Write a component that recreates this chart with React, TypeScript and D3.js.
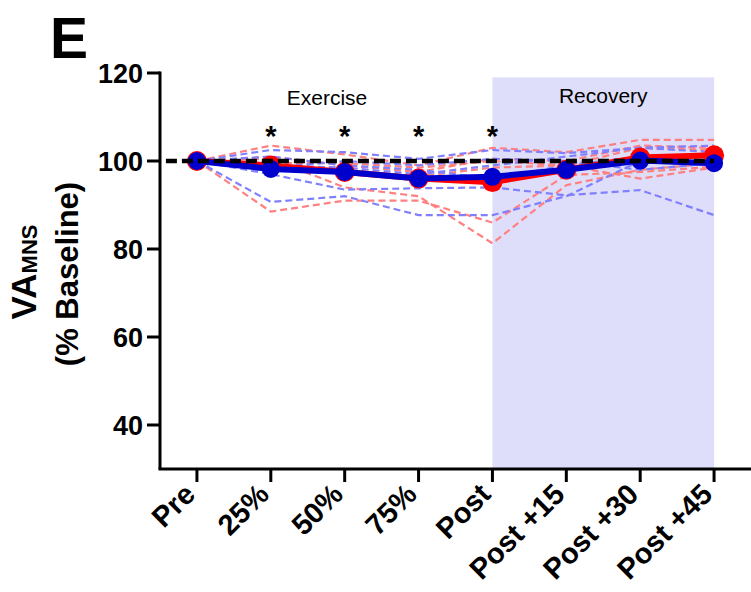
import React from 'react';
import * as d3 from 'd3';

// Time points along the protocol
const timepoints = ['Pre', '25%', '50%', '75%', 'Post', 'Post +15', 'Post +30', 'Post +45'];
const yTicks = [40, 60, 80, 100, 120];
const significantPoints = ['25%', '50%', '75%', 'Post'];

// Individual participants, group 1 (red)
const redSubject1 = [100, 103.5, 101.5, 99, 103, 102, 104.8, 104.8];
const redSubject2 = [100, 88.5, 91, 91, 86, 96.8, 97.5, 98.7];
const redSubject3 = [100, 100.5, 94, 92, 81.3, 94.5, 98, 99.5];
const redSubject4 = [100, 101, 99, 97.5, 100.5, 100, 103.5, 103];
const redSubject5 = [100, 99, 98, 96.5, 98.5, 99, 96, 98.5];
const redSubject6 = [100, 99.5, 99.5, 98.5, 100, 99, 103, 102.5];

// Individual participants, group 2 (blue)
const blueSubject1 = [100, 102.5, 102, 100.5, 102.5, 101.8, 103, 103.5];
const blueSubject2 = [100, 90.7, 92, 87.7, 87.7, 92, 100, 100];
const blueSubject3 = [100, 97, 93.5, 93.8, 94, 92.2, 93.4, 87.7];
const blueSubject4 = [100, 99, 98.5, 97, 99, 101, 103, 102];
const blueSubject5 = [100, 98.5, 100, 99, 100.5, 100, 98, 99.5];
const blueSubject6 = [100, 101, 99, 98, 96, 99, 101, 101];

// Group means
const redMean = [100, 99, 97.5, 96, 95.2, 98, 100.8, 101.3];
const blueMean = [100, 98.2, 97.5, 96, 96.4, 98, 100.1, 99.5];

const redSubjects = [redSubject1, redSubject2, redSubject3, redSubject4, redSubject5, redSubject6];
const blueSubjects = [blueSubject1, blueSubject2, blueSubject3, blueSubject4, blueSubject5, blueSubject6];

const FONT = '"Liberation Sans", Arial, Helvetica, sans-serif';

export default function App() {
  const width = 751;
  const height = 592;
  const left = 160;
  const bottom = 469;

  const x = d3.scaleLinear().domain([-0.5, 7.5]).range([left, width]);
  const y = d3.scaleLinear().domain([30, 120]).range([bottom, 73]);

  const line = d3
    .line<number>()
    .x((_, i) => x(i))
    .y((d) => y(d));

  return (
    <svg
      width={width}
      height={height}
      style={{ position: 'absolute', left: 0, top: 0, background: '#fff' }}
      fontFamily={FONT}
    >
      {/* recovery period shading */}
      <rect
        x={x(4)}
        y={y(119)}
        width={x(7) - x(4)}
        height={bottom - y(119)}
        fill="#dedefa"
      />

      {/* individual traces */}
      {redSubjects.map((s, i) => (
        <path
          key={'r' + i}
          d={line(s) || ''}
          fill="none"
          stroke="#ff8080"
          strokeWidth={2.2}
          strokeDasharray="7,4"
        />
      ))}
      {blueSubjects.map((s, i) => (
        <path
          key={'b' + i}
          d={line(s) || ''}
          fill="none"
          stroke="#8080ff"
          strokeWidth={2.2}
          strokeDasharray="7,4"
        />
      ))}

      {/* group means */}
      <path d={line(redMean) || ''} fill="none" stroke="#ff0000" strokeWidth={6} />
      {redMean.map((v, i) => (
        <circle key={'rm' + i} cx={x(i)} cy={y(v)} r={10} fill="#ff0000" />
      ))}
      <path d={line(blueMean) || ''} fill="none" stroke="#0000cc" strokeWidth={6} />
      {blueMean.map((v, i) => (
        <circle key={'bm' + i} cx={x(i)} cy={y(v)} r={9} fill="#0000cc" />
      ))}

      {/* baseline reference */}
      <line
        x1={x(-0.42)}
        x2={x(7)}
        y1={y(100)}
        y2={y(100)}
        stroke="#000"
        strokeWidth={4.5}
        strokeDasharray="11,5"
      />

      {/* axes */}
      <line x1={left} x2={left} y1={y(120) - 1.5} y2={bottom} stroke="#000" strokeWidth={3} />
      <line x1={left - 1.5} x2={width} y1={bottom} y2={bottom} stroke="#000" strokeWidth={3} />
      {yTicks.map((t) => (
        <g key={'yt' + t}>
          <line x1={left - 13} x2={left} y1={y(t)} y2={y(t)} stroke="#000" strokeWidth={3} />
          <text
            x={left - 17}
            y={y(t)}
            dy="0.36em"
            textAnchor="end"
            fontSize={27}
            fontWeight="bold"
          >
            {t}
          </text>
        </g>
      ))}
      {timepoints.map((t, i) => (
        <g key={'xt' + i}>
          <line x1={x(i)} x2={x(i)} y1={bottom} y2={bottom + 13} stroke="#000" strokeWidth={3} />
          <text
            transform={`translate(${x(i)},${bottom + 27}) rotate(-45)`}
            textAnchor="end"
            fontSize={29}
            fontWeight="bold"
          >
            {t}
          </text>
        </g>
      ))}

      {/* significance markers */}
      {significantPoints.map((p) => (
        <text
          key={'s' + p}
          x={x(timepoints.indexOf(p))}
          y={146}
          textAnchor="middle"
          fontSize={29}
          fontWeight="bold"
        >
          *
        </text>
      ))}

      {/* phase labels */}
      <text x={327} y={105} textAnchor="middle" fontSize={21}>
        Exercise
      </text>
      <text x={(x(4) + x(7)) / 2} y={103} textAnchor="middle" fontSize={21}>
        Recovery
      </text>

      {/* y-axis title */}
      <g transform={`translate(36,272) rotate(-90)`}>
        <text textAnchor="middle" fontWeight="bold" fontSize={35}>
          VA
          <tspan fontSize={22} dy={1}>MNS</tspan>
        </text>
      </g>
      <g transform={`translate(78,274) rotate(-90)`}>
        <text textAnchor="middle" fontWeight="bold" fontSize={31}>
          (% Baseline)
        </text>
      </g>

      {/* panel letter */}
      <text x={50} y={58} fontSize={57} fontWeight="bold">
        E
      </text>
    </svg>
  );
}
